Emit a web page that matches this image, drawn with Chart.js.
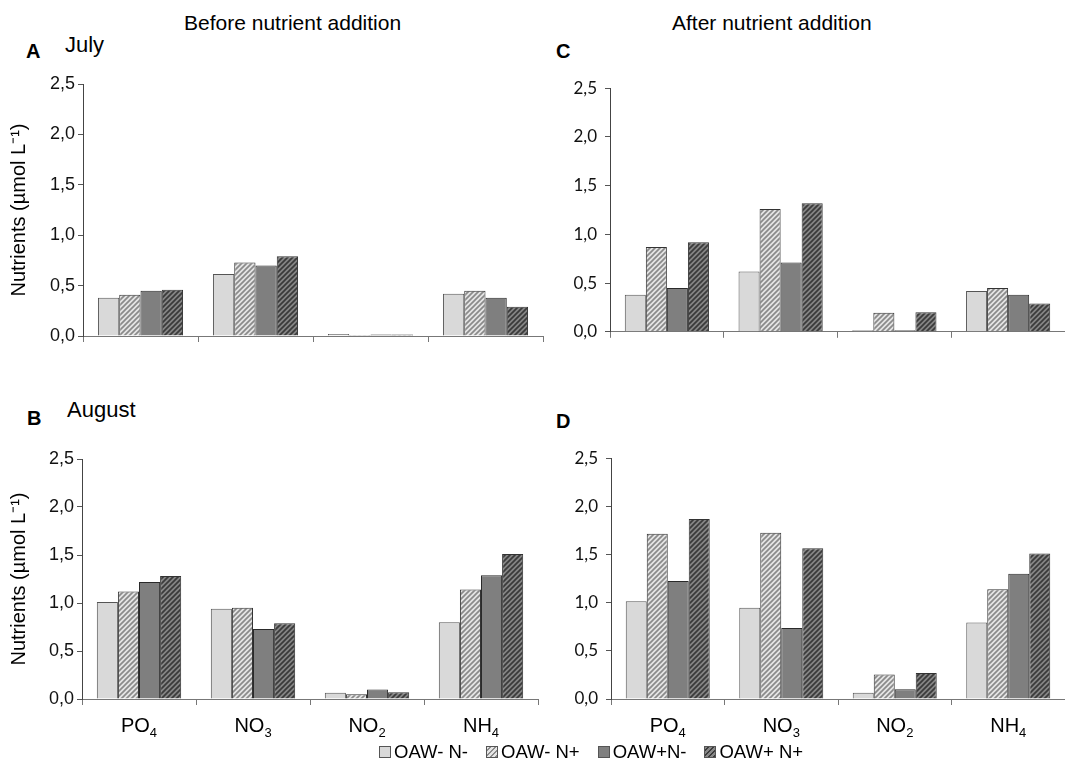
<!DOCTYPE html>
<html>
<head>
<meta charset="utf-8">
<script src="https://cdn.jsdelivr.net/npm/chart.js@4.4.0/dist/chart.umd.min.js"></script>
<style>
body{margin:0;background:#fff;width:1065px;height:776px;position:relative;overflow:hidden;font-family:"Liberation Sans",Arial,sans-serif;}
canvas{position:absolute;}
.t{position:absolute;color:#000;white-space:nowrap;font-size:21px;line-height:21px;}
.b{font-weight:bold;font-size:20px;}
#legend{position:absolute;left:379px;top:741px;display:flex;align-items:center;font-size:18.5px;line-height:22px;}
#legend span.sw{display:inline-block;width:10px;height:10px;border:1px solid #555;margin-right:3px;}
#legend span.lb{margin-right:18px;}
</style>
</head>
<body>
<div class="t" style="left:184px;top:12px">Before nutrient addition</div>
<div class="t" style="left:672px;top:12px">After nutrient addition</div>
<div class="t b" style="left:26px;top:41px">A</div>
<div class="t" style="left:65px;top:34px;font-size:22px">July</div>
<div class="t b" style="left:556px;top:41px">C</div>
<div class="t b" style="left:27px;top:408px">B</div>
<div class="t" style="left:67px;top:399px;font-size:22px">August</div>
<div class="t b" style="left:556px;top:411px">D</div>

<canvas id="chA" width="548" height="280" style="left:0;top:70px"></canvas>
<canvas id="chC" width="517" height="280" style="left:548px;top:70px"></canvas>
<canvas id="chB" width="548" height="300" style="left:0;top:445px"></canvas>
<canvas id="chD" width="517" height="305" style="left:548px;top:440px"></canvas>

<div id="legend">
  <span class="sw" style="background:#d9d9d9"></span><span class="lb">OAW- N-</span>
  <span class="sw" style="background:repeating-linear-gradient(135deg,#e6e6e6 0 2px,#8c8c8c 2px 3.5px)"></span><span class="lb">OAW- N+</span>
  <span class="sw" style="background:#808080"></span><span class="lb">OAW+N-</span>
  <span class="sw" style="background:repeating-linear-gradient(135deg,#888 0 2px,#3c3c3c 2px 3.5px)"></span><span class="lb">OAW+ N+</span>
</div>

<script>
// categories / series
var categories = ["PO4", "NO3", "NO2", "NH4"];
var seriesNames = ["OAW- N-", "OAW- N+", "OAW+N-", "OAW+ N+"];
var yTicks = [0, 0.5, 1.0, 1.5, 2.0, 2.5];

// A - July, before nutrient addition
var panelA_OAWmNm = [0.38, 0.615, 0.02, 0.42];
var panelA_OAWmNp = [0.41, 0.73, 0.01, 0.45];
var panelA_OAWpNm = [0.45, 0.70, 0.015, 0.38];
var panelA_OAWpNp = [0.46, 0.79, 0.015, 0.29];

// C - July, after nutrient addition
var panelC_OAWmNm = [0.38, 0.62, 0.015, 0.42];
var panelC_OAWmNp = [0.87, 1.26, 0.195, 0.45];
var panelC_OAWpNm = [0.45, 0.71, 0.015, 0.38];
var panelC_OAWpNp = [0.92, 1.32, 0.20, 0.29];

// B - August, before nutrient addition
var panelB_OAWmNm = [1.01, 0.94, 0.066, 0.80];
var panelB_OAWmNp = [1.12, 0.95, 0.05, 1.14];
var panelB_OAWpNm = [1.22, 0.73, 0.10, 1.29];
var panelB_OAWpNp = [1.28, 0.79, 0.07, 1.51];

// D - August, after nutrient addition
var panelD_OAWmNm = [1.015, 0.947, 0.065, 0.795];
var panelD_OAWmNp = [1.715, 1.726, 0.254, 1.14];
var panelD_OAWpNm = [1.225, 0.738, 0.10, 1.30];
var panelD_OAWpNp = [1.87, 1.566, 0.27, 1.51];

function hatch(bg, fg){
	var s = 5;
	var c = document.createElement("canvas");
	c.width = s; c.height = s;
	var x = c.getContext("2d");
	x.fillStyle = bg;
	x.fillRect(0, 0, s, s);
	x.strokeStyle = fg;
	x.lineWidth = 1.7;
	x.beginPath();
	x.moveTo(-1, 1); x.lineTo(1, -1);
	x.moveTo(0, s); x.lineTo(s, 0);
	x.moveTo(s - 1, s + 1); x.lineTo(s + 1, s - 1);
	x.stroke();
	return x.createPattern(c, "repeat");
}

var fills = ["#d9d9d9", hatch("#e4e4e4", "#8a8a8a"), "#7f7f7f", hatch("#858585", "#3a3a3a")];
var borders = ["#555", "#333", "#2a2a2a", "#333"];

function fmt(v){ return v.toFixed(1).replace(".", ","); }

// category labels with subscripts, placed by the x scale
var subLabels = {
	id: "subLabels",
	afterDraw: function(chart){
		if(!chart.options.showCats){ return; }
		var sc = chart.scales.x, c = chart.ctx;
		c.save();
		c.fillStyle = "#000";
		c.textBaseline = "alphabetic";
		for(var i = 0; i < categories.length; i++){
			var lab = categories[i];
			var base = lab.slice(0, -1), sub = lab.slice(-1);
			c.font = "20px 'Liberation Sans', Arial";
			var w1 = c.measureText(base).width;
			c.font = "13px 'Liberation Sans', Arial";
			var w2 = c.measureText(sub).width;
			var x0 = sc.getPixelForValue(i) - (w1 + w2) / 2;
			var y0 = sc.top + 33;
			c.font = "20px 'Liberation Sans', Arial";
			c.fillText(base, x0, y0);
			c.font = "13px 'Liberation Sans', Arial";
			c.fillText(sub, x0 + w1, y0 + 5);
		}
		c.restore();
	}
};

function makeChart(id, vals, p){
	var datasets = [];
	for(var k = 0; k < 4; k++){
		datasets.push({
			label: seriesNames[k],
			data: vals[k],
			backgroundColor: fills[k],
			borderColor: borders[k],
			borderWidth: 1,
			barPercentage: 1,
			categoryPercentage: 0.74
		});
	}
	new Chart(document.getElementById(id), {
		type: "bar",
		data: {labels: categories, datasets: datasets},
		plugins: [subLabels],
		options: {
			responsive: false,
			animation: false,
			devicePixelRatio: 1,
			showCats: p.cats,
			layout: {padding: {left: 0, top: p.top, right: p.right, bottom: 0}},
			plugins: {legend: {display: false}, tooltip: {enabled: false}},
			scales: {
				x: {
					grid: {offset: true, drawOnChartArea: false, drawTicks: true, tickLength: 6, color: "#777"},
					border: {color: "#777", width: 1},
					ticks: {display: false},
					afterFit: function(s){ s.height = p.xh; }
				},
				y: {
					min: 0, max: 2.5,
					afterBuildTicks: function(s){ s.ticks = yTicks.map(function(v){ return {value: v}; }); },
					ticks: {
						callback: function(v){ return fmt(v); },
						font: {family: p.tickFont, size: p.tickSize},
						color: "#111",
						padding: p.tickPad
					},
					grid: {drawOnChartArea: false, drawTicks: true, tickLength: 5, color: "#555"},
					border: {color: "#444", width: 1},
					title: {
						display: p.ytitle,
						text: "Nutrients (\u00b5mol L\u207b\u00b9)",
						font: {family: "'Liberation Sans', Arial", size: 20},
						color: "#000",
						padding: {top: 7, bottom: 0}
					},
					afterFit: function(s){ s.width = p.yw; }
				}
			}
		}
	});
}

var leftFont = "'Liberation Sans', Arial";
var rightFont = "Lato, 'Open Sans', sans-serif";

makeChart("chA", [panelA_OAWmNm, panelA_OAWmNp, panelA_OAWpNm, panelA_OAWpNp],
	{top: 14, right: 5, xh: 14, yw: 83, cats: false, ytitle: true, tickFont: leftFont, tickSize: 18, tickPad: 3});
makeChart("chC", [panelC_OAWmNm, panelC_OAWmNp, panelC_OAWpNm, panelC_OAWpNp],
	{top: 14, right: 0, xh: 16, yw: 62, cats: false, ytitle: false, tickFont: rightFont, tickSize: 17, tickPad: 8});
makeChart("chB", [panelB_OAWmNm, panelB_OAWmNp, panelB_OAWpNm, panelB_OAWpNp],
	{top: 14, right: 10, xh: 46, yw: 82, cats: true, ytitle: true, tickFont: leftFont, tickSize: 18, tickPad: 3});
makeChart("chD", [panelD_OAWmNm, panelD_OAWmNp, panelD_OAWpNm, panelD_OAWpNp],
	{top: 13, right: 0, xh: 46, yw: 63, cats: true, ytitle: false, tickFont: rightFont, tickSize: 17, tickPad: 8});
</script>
</body>
</html>
